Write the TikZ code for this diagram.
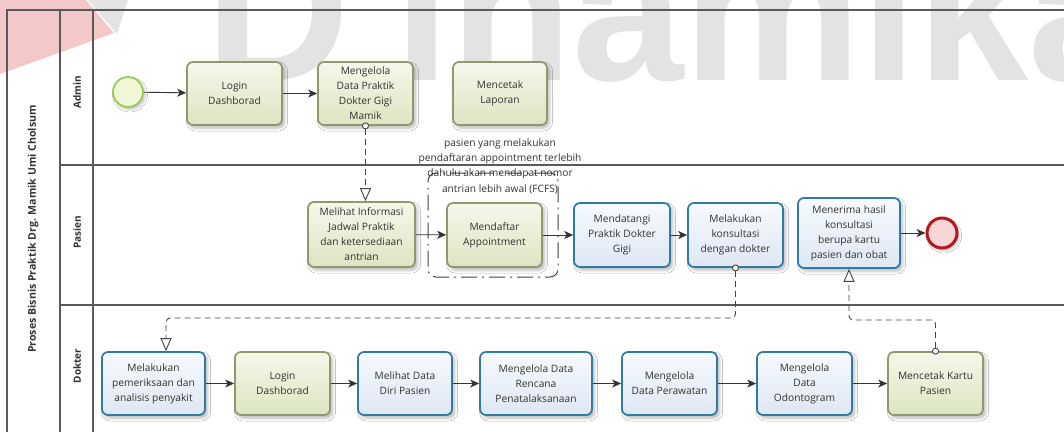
\documentclass[tikz,border=0pt]{standalone}
\usepackage{fontspec}
\setmainfont{Open Sans}
\newfontfamily\markfont{Liberation Sans}
\usetikzlibrary{arrows.meta,shadows.blur}

\definecolor{laneline}{HTML}{5A5A5A}
\definecolor{txt}{HTML}{333333}
\definecolor{gborder}{HTML}{8E9A6C}
\definecolor{gtop}{HTML}{F5F8EA}
\definecolor{gbot}{HTML}{DCE5C2}
\definecolor{bborder}{HTML}{2F7BA4}
\definecolor{btop}{HTML}{F7FAFE}
\definecolor{bbot}{HTML}{DEE7F4}
\definecolor{startline}{HTML}{9CCB52}
\definecolor{startfill}{HTML}{F0F7D6}
\definecolor{endline}{HTML}{B3181C}
\definecolor{endfill}{HTML}{F6D6D6}
\definecolor{flowc}{HTML}{333333}
\definecolor{msgc}{HTML}{444444}
\definecolor{markgray}{HTML}{E3E3E3}
\definecolor{markred}{HTML}{F4C8C8}

\tikzset{
  lane/.style={draw=laneline, line width=1.1pt},
  poollabel/.style={rotate=90, font=\bfseries\fontsize{10.6}{12}\selectfont, text=txt},
  lanelabel/.style={rotate=90, font=\bfseries\fontsize{10}{12}\selectfont, text=txt},
  taskbase/.style={rectangle, rounded corners=6pt, line width=1.7pt, align=center,
    text=txt, font=\fontsize{10.2}{15}\selectfont, inner sep=2pt,
    minimum width=95pt, minimum height=63pt,
    blur shadow={shadow xshift=2.5pt, shadow yshift=-3pt, shadow blur radius=3pt, shadow opacity=28}},
  gtask/.style={taskbase, draw=gborder, top color=gtop, bottom color=gbot},
  btask/.style={taskbase, draw=bborder, top color=btop, bottom color=bbot},
  startev/.style={circle, minimum size=30pt, inner sep=0pt, line width=1.8pt,
    draw=startline, fill=startfill,
    blur shadow={shadow xshift=2pt, shadow yshift=-2.5pt, shadow blur radius=2.5pt, shadow opacity=25}},
  endev/.style={circle, minimum size=30pt, inner sep=0pt, line width=3pt,
    draw=endline, fill=endfill,
    blur shadow={shadow xshift=2pt, shadow yshift=-2.5pt, shadow blur radius=2.5pt, shadow opacity=25}},
  flow/.style={draw=flowc, line width=0.9pt, -{Stealth[length=9pt,width=8pt,inset=2.5pt]}},
  msg/.style={draw=msgc, line width=0.9pt, dash pattern=on 6pt off 4pt, rounded corners=4pt,
    shorten <=-3.5pt,
    {Circle[fill=white,length=7pt,width=7pt]}-{Triangle[fill=white,length=13pt,width=11pt]}},
  groupbox/.style={rectangle, rounded corners=8pt, draw=msgc, line width=1pt,
    dash pattern=on 16pt off 5pt on 2pt off 5pt},
  note/.style={align=center, text=txt, font=\fontsize{10.2}{15.3}\selectfont},
}

\begin{document}
\begin{tikzpicture}[x=1pt,y=-1pt]
\useasboundingbox (0,0) rectangle (1064,432);
\fill[white] (0,0) rectangle (1064,432);

% faint logo and lettering behind the pool
\fill[markred] (0,0) -- (86,0) -- (114,33) -- (0,74) -- cycle;
\fill[markgray] (88,0) -- (128,0) -- (117,34) -- cycle;
\node[anchor=base west, inner sep=0pt, text=markgray,
      font=\markfont\bfseries\fontsize{200}{200}\selectfont] (wmark) at (205,80) {D\kern45pt inamika};

% pool and lanes
\draw[lane] (7,432) -- (7,10) -- (1064,10);
\draw[lane] (60,10) -- (60,432);
\draw[lane] (93,10) -- (93,432);
\draw[lane] (60,165) -- (1064,165);
\draw[lane] (60,305) -- (1064,305);

\node[poollabel] (pool) at (33,229) {Proses Bisnis Praktik Drg. Mamik Umi Cholsum};
\node[lanelabel] (ladmin) at (77,92) {Admin};
\node[lanelabel] (lpasien) at (77,232) {Pasien};
\node[lanelabel] (ldokter) at (77,366) {Dokter};

% Admin lane
\node[startev] (start) at (128,92) {};
\node[gtask] (a1) at (234.5,93.5) {Login\\Dashborad};
\node[gtask] (a2) at (365.5,93.5) {Mengelola\\Data Praktik\\Dokter Gigi\\Mamik};
\node[gtask, minimum width=94pt] (a3) at (500,93.5) {Mencetak\\Laporan};

% Pasien lane
\node[groupbox, minimum width=130pt, minimum height=104pt] (grp) at (493,225) {};
\node[note] (ann) at (500,166) {pasien yang melakukan\\pendaftaran appointment terlebih\\dahulu akan mendapat nomor\\antrian lebih awal (FCFS)};
\node[gtask, minimum width=107pt, minimum height=65pt] (p1) at (361.5,234.5) {Melihat Informasi\\Jadwal Praktik\\dan ketersediaan\\antrian};
\node[gtask, minimum height=64pt] (p2) at (494.5,235) {Mendaftar\\Appointment};
\node[btask, minimum width=96pt, minimum height=64pt] (p3) at (622,235) {Mendatangi\\Praktik Dokter\\Gigi};
\node[btask, minimum height=64pt] (p4) at (735.5,235) {Melakukan\\konsultasi\\dengan dokter};
\node[btask, minimum width=102pt, minimum height=70pt] (p5) at (849,233) {Menerima hasil\\konsultasi\\berupa kartu\\pasien dan obat};
\node[endev] (end) at (942,233) {};

% Dokter lane
\node[btask, minimum width=103pt] (d1) at (153.5,383.5) {Melakukan\\pemeriksaan dan\\analisis penyakit};
\node[gtask] (d2) at (282.5,383.5) {Login\\Dashborad};
\node[btask, minimum width=94pt] (d3) at (405,383.5) {Melihat Data\\Diri Pasien};
\node[btask, minimum width=112pt] (d4) at (536,383.5) {Mengelola Data\\Rencana\\Penatalaksanaan};
\node[btask] (d5) at (669.5,383.5) {Mengelola\\Data Perawatan};
\node[btask] (d6) at (804.5,383.5) {Mengelola\\Data\\Odontogram};
\node[gtask] (d7) at (935.5,383.5) {Mencetak Kartu\\Pasien};

% sequence flows
\draw[flow] (start) -- (a1);
\draw[flow] (a1) -- (a2);
\draw[flow] (p1) -- (p2);
\draw[flow] (p2) -- (p3);
\draw[flow] (p3) -- (p4);
\draw[flow] (p5.east |- end) -- (end);
\draw[flow] (d1) -- (d2);
\draw[flow] (d2) -- (d3);
\draw[flow] (d3) -- (d4);
\draw[flow] (d4) -- (d5);
\draw[flow] (d5) -- (d6);
\draw[flow] (d6) -- (d7);

% message flows
\coordinate (m2) at (166,318);
\coordinate (m3) at (849,320);
\draw[msg] (a2.south) -- (a2.south |- p1.north);
\draw[msg] (p4.south) |- (m2) -- (d1.north -| m2);
\draw[msg] (d7.north) |- (m3) -- (p5.south);
\end{tikzpicture}
\end{document}
